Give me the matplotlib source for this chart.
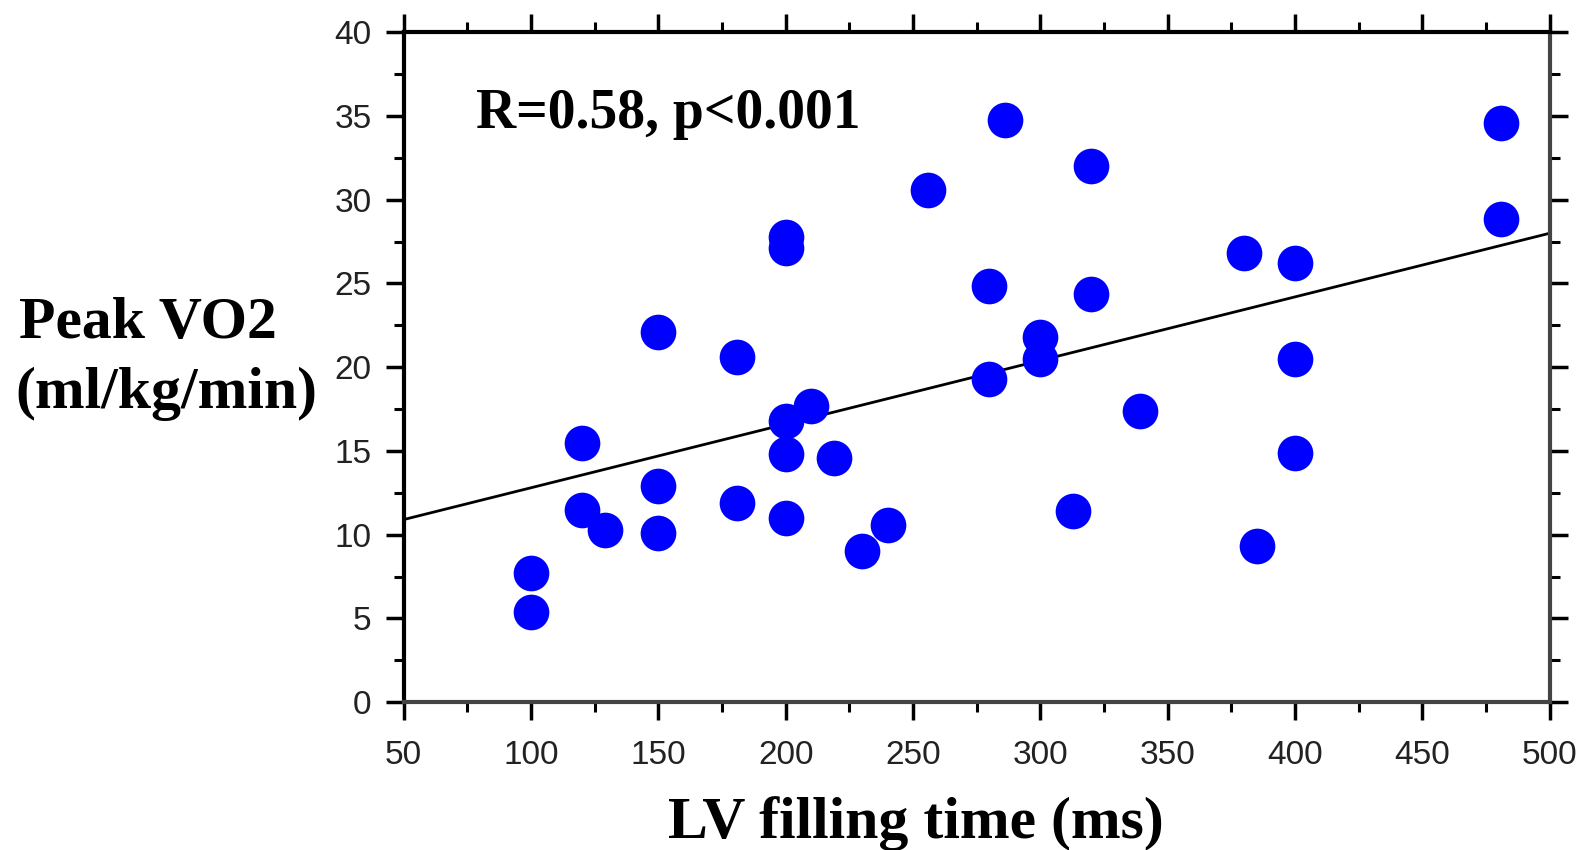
import matplotlib.pyplot as plt
from matplotlib.ticker import MultipleLocator
import numpy as np

# --- data ---
lv_filling_time = [100, 100, 120, 120, 129, 150, 150, 150, 181, 181,
                   200, 200, 200, 200, 200, 210, 219, 230, 240, 256,
                   280, 280, 286, 300, 300, 313, 320, 320, 339, 380,
                   385, 400, 400, 400, 481, 481]
peak_vo2 = [7.7, 5.4, 15.5, 11.5, 10.3, 22.1, 12.9, 10.1, 20.6, 11.9,
            27.8, 27.1, 16.8, 14.8, 11.0, 17.7, 14.6, 9.0, 10.6, 30.6,
            24.85, 19.3, 34.75, 21.8, 20.5, 11.4, 32.0, 24.4, 17.4, 26.8,
            9.3, 26.2, 20.5, 14.9, 34.6, 28.85]

# regression line
fit_intercept = 9.0
fit_slope = 0.038

xticks = [50, 100, 150, 200, 250, 300, 350, 400, 450, 500]
yticks = [0, 5, 10, 15, 20, 25, 30, 35, 40]

# --- figure ---
fig = plt.figure(figsize=(15.83, 8.5), dpi=100)
ax = fig.add_axes([0.255, 0.174, 0.724, 0.788])

ax.scatter(lv_filling_time, peak_vo2, s=660, color='#0000ff', zorder=3, linewidths=0)

xline = np.array([50, 500])
ax.plot(xline, fit_intercept + fit_slope * xline, color='black', lw=2, zorder=2)

ax.set_xlim(50, 500)
ax.set_ylim(0, 40)
ax.set_xticks(xticks)
ax.set_yticks(yticks)
ax.xaxis.set_minor_locator(MultipleLocator(25))
ax.yaxis.set_minor_locator(MultipleLocator(2.5))

ax.tick_params(which='both', direction='out', top=True, right=True,
               labeltop=False, labelright=False, color='black')
ax.tick_params(which='major', length=13, width=2.5)
ax.tick_params(which='minor', length=7, width=2.2)
ax.tick_params(axis='x', which='major', pad=14)
ax.tick_params(axis='y', which='major', pad=10)

for lab in ax.get_xticklabels() + ax.get_yticklabels():
    lab.set_fontfamily('Liberation Sans')
    lab.set_fontsize(24)
    lab.set_color('#222222')

for side in ['left', 'top']:
    ax.spines[side].set_linewidth(3)
    ax.spines[side].set_color('black')
for side in ['bottom', 'right']:
    ax.spines[side].set_linewidth(3)
    ax.spines[side].set_color('#444444')

# --- texts ---
serif = 'Liberation Serif'
ax.text(0.063, 0.878, 'R=0.58, p<0.001', transform=ax.transAxes,
        fontfamily=serif, fontweight='bold', fontsize=40, va='center', ha='left')

ax.set_xlabel('LV filling time (ms)', fontfamily=serif, fontweight='bold',
              fontsize=43)
ax.xaxis.set_label_coords(0.447, -0.182)
ax.xaxis.label.set_verticalalignment('center')

fig.text(0.012, 0.619, 'Peak VO2', fontfamily=serif, fontweight='bold',
         fontsize=43, ha='left', va='center')
fig.text(0.010, 0.537, '(ml/kg/min)', fontfamily=serif, fontweight='bold',
         fontsize=43, ha='left', va='center')

plt.savefig('out.png', dpi=100)
